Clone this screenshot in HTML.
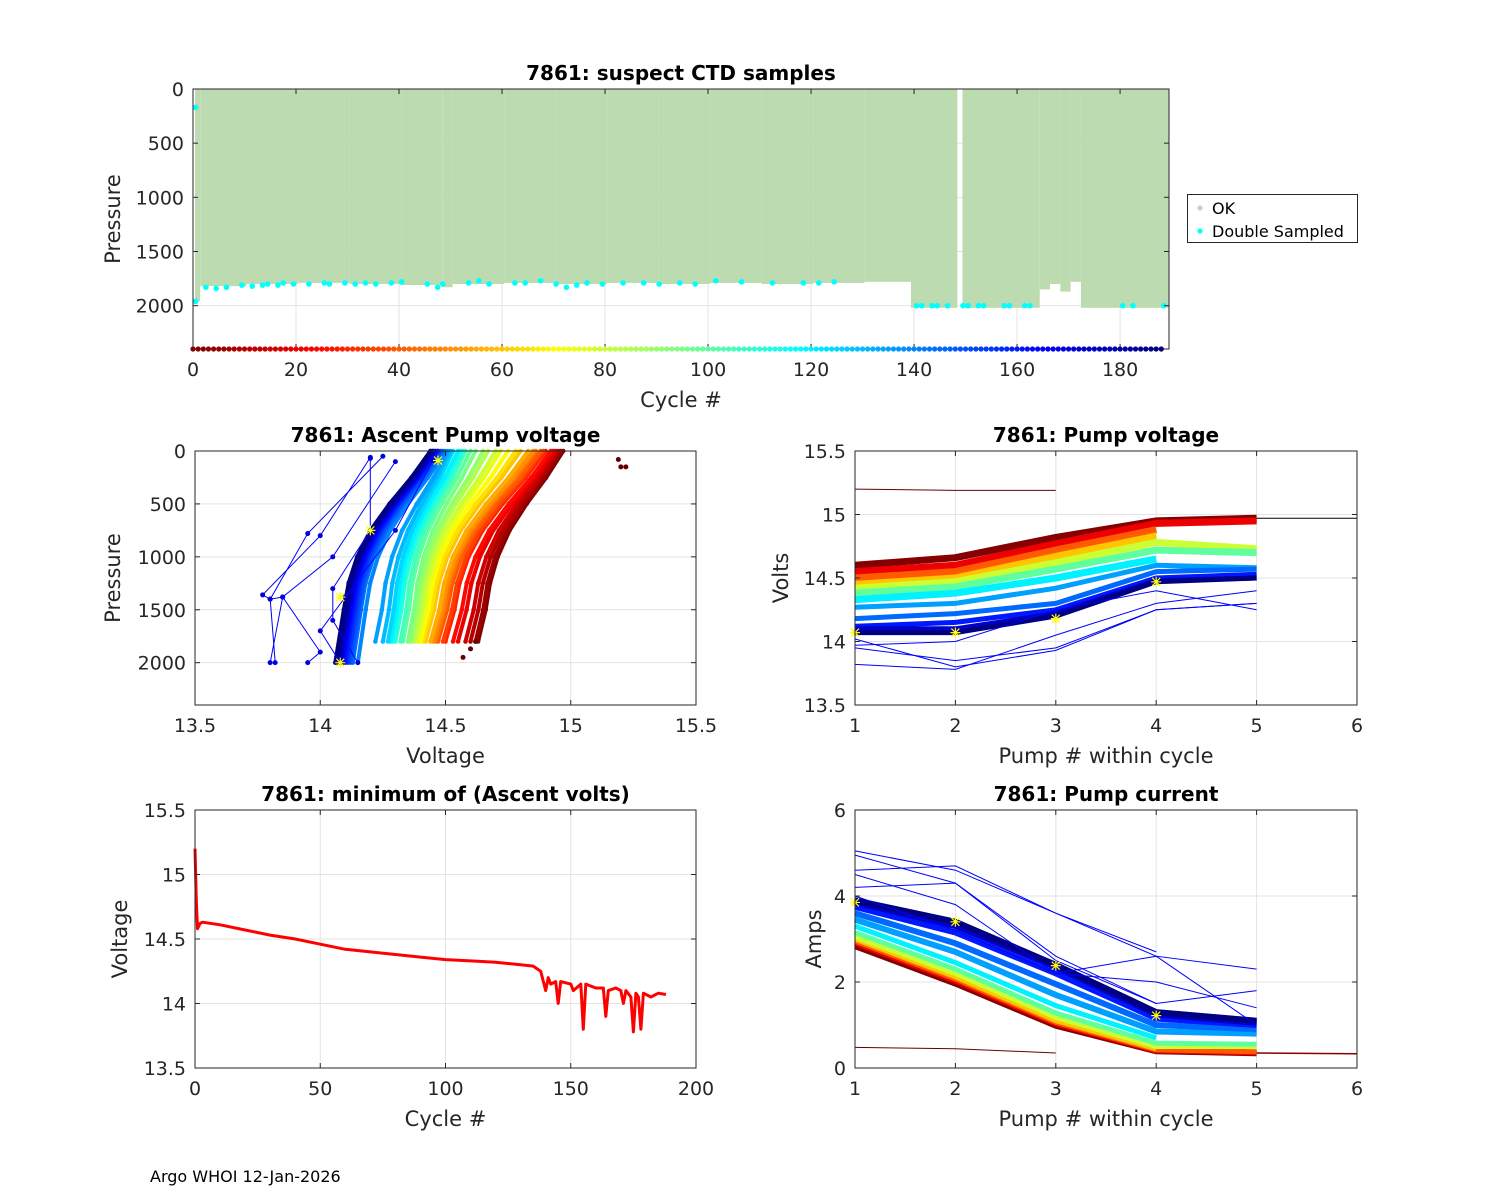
<!DOCTYPE html>
<html><head><meta charset="utf-8"><style>
body{margin:0;background:#fff;}
svg{display:block;font-family:"DejaVu Sans","Liberation Sans",sans-serif;}
</style></head><body>
<svg id="fig" width="1500" height="1200" viewBox="0 0 1500 1200"></svg>
<script>
// ===== DATA =====
const depthSegStart=[0,1,10,20,30,40,48,50,60,70,80,90,100,110,120,130,139,149,164,166,168,170,172];
const depthSegEnd  =[1,10,20,30,40,48,50,60,70,80,90,100,110,120,130,139,148,164,166,168,170,172,189];
const depthSegVal  =[1960,1820,1800,1790,1800,1810,1830,1800,1790,1800,1790,1800,1790,1800,1790,1780,2020,2020,1850,1800,1870,1780,2020];
const dsCycles=[0,0,2,4,6,9,11,13,14,16,17,19,22,25,26,29,31,33,35,38,40,45,47,48,53,55,57,62,64,67,70,72,74,76,79,83,87,90,94,97,101,106,112,118,121,124,140,141,143,144,146,149,150,152,153,157,158,161,162,180,182,188];
const dsPress =[170,1960,1830,1840,1830,1810,1820,1810,1800,1810,1790,1800,1800,1790,1800,1790,1800,1790,1800,1790,1780,1800,1830,1800,1790,1770,1800,1790,1790,1770,1800,1830,1810,1790,1800,1790,1790,1800,1790,1800,1770,1780,1790,1790,1790,1780,2000,2000,2000,2000,2000,2000,2000,2000,2000,2000,2000,2000,2000,2000,2000,2000];
const ascPress=[0,250,500,750,1000,1250,1500,1800];
const ascShape=[0,0.2,0.43,0.63,0.77,0.86,0.91,1];
const ascCycle=[1,5,10,15,20,25,30,35,40,45,50,55,60,65,70,75,80,85,90,95,100,105,110,115,120,125,130,135,140,145,150,155,160,165,170,175,180,184,188];
const ascTop  =[14.97,14.96,14.95,14.94,14.93,14.92,14.9,14.89,14.88,14.86,14.85,14.83,14.8,14.78,14.75,14.72,14.7,14.67,14.65,14.62,14.6,14.58,14.57,14.56,14.55,14.53,14.52,14.51,14.5,14.49,14.48,14.47,14.47,14.46,14.46,14.45,14.45,14.44,14.44];
const ascBot  =[14.63,14.62,14.6,14.58,14.55,14.53,14.5,14.49,14.47,14.46,14.45,14.44,14.42,14.41,14.4,14.39,14.38,14.37,14.36,14.35,14.33,14.32,14.3,14.29,14.28,14.27,14.25,14.22,14.15,14.13,14.12,14.11,14.1,14.09,14.08,14.08,14.07,14.07,14.06];
const ascOutV=[[14.2,14.0,13.77,13.8,13.82],[14.25,13.95,13.8,13.85,13.8],[14.3,14.05,13.85,14.0,13.95],[14.2,14.2,14.05,14.05,14.15],[14.45,14.3,14.1,14.0,14.08]];
const ascOutP=[[60,800,1360,1400,2000],[50,780,1400,1380,2000],[100,1000,1380,1900,2000],[70,750,1300,1600,2000],[90,750,1380,1700,2000]];
const ascStarV=[14.47,14.2,14.08,14.08];
const ascStarP=[90,750,1380,2000];
const pvCycle=[1,20,40,60,80,100,120,135,145,160,175,188];
const pv1=[14.6,14.55,14.5,14.45,14.42,14.38,14.33,14.27,14.18,14.12,14.1,14.07];
const pv2=[14.66,14.6,14.55,14.5,14.47,14.43,14.38,14.3,14.22,14.15,14.1,14.07];
const pv3=[14.82,14.77,14.72,14.67,14.62,14.57,14.5,14.42,14.3,14.25,14.22,14.2];
const pv4=[14.95,14.93,14.88,14.83,14.78,14.72,14.65,14.6,14.55,14.5,14.48,14.47];
const pv5=[14.97,14.95,null,null,14.73,14.7,null,14.58,14.57,14.53,14.5,14.5];
const pvOut=[[13.95,13.85,13.95,14.25,14.3],[13.82,13.78,14.05,14.3,14.4],[13.97,14.0,14.25,14.4,14.25],[14.02,13.8,13.93,14.25,14.3]];
const pvStar=[14.07,14.07,14.18,14.47];
const pc1=[2.82,2.9,2.95,3.0,3.05,3.15,3.3,3.45,3.6,3.75,3.85,3.9];
const pc2=[1.95,2.02,2.07,2.12,2.2,2.3,2.45,2.7,2.9,3.15,3.3,3.4];
const pc3=[0.97,1.02,1.06,1.1,1.18,1.28,1.45,1.7,1.95,2.2,2.35,2.4];
const pc4=[0.38,0.4,0.42,0.45,0.5,0.58,0.7,0.85,1.0,1.15,1.25,1.3];
const pc5=[0.33,0.35,0.38,null,0.5,0.55,null,0.8,0.9,1.0,1.05,1.1];
const pcOut=[[5.05,4.6,3.6,2.7,null],[4.95,4.3,2.6,1.5,null],[4.6,4.7,3.6,2.6,2.3],[4.2,4.3,2.5,1.5,1.8],[4.0,3.2,2.2,2.6,1.0],[4.5,3.8,2.2,2.0,1.4]];
const pcStar=[3.85,3.4,2.38,1.22];
const mvCycle=[0,0.5,1,2,3,10,20,30,40,50,60,70,80,90,100,110,120,130,135,138,140,141,142,144,145,146,150,151,154,155,156,160,163,164,165,168,170,171,172,174,175,176,177,178,179,182,185,188];
const mvVolt =[15.2,14.8,14.58,14.62,14.63,14.61,14.57,14.53,14.5,14.46,14.42,14.4,14.38,14.36,14.34,14.33,14.32,14.3,14.29,14.25,14.1,14.2,14.15,14.17,14.0,14.17,14.15,14.1,14.15,13.8,14.15,14.12,14.12,13.9,14.1,14.12,14.1,14.0,14.1,14.05,13.78,14.08,14.05,13.8,14.08,14.05,14.08,14.07];

// ===== HELPERS =====
const NS="http://www.w3.org/2000/svg";
const svg=document.getElementById('fig');
function mk(tag,attrs,parent){const e=document.createElementNS(NS,tag);for(const k in attrs)e.setAttribute(k,attrs[k]);(parent||svg).appendChild(e);return e;}
function jet(c){const t=1-c/188;const cl=v=>Math.max(0,Math.min(1,v));
 const r=cl(1.5-Math.abs(4*t-3)),g=cl(1.5-Math.abs(4*t-2)),b=cl(1.5-Math.abs(4*t-1));
 return `rgb(${Math.round(r*255)},${Math.round(g*255)},${Math.round(b*255)})`;}
const TXT='#262626';
function axes(o){
 const sx=v=>o.l+(v-o.xmin)/(o.xmax-o.xmin)*(o.r-o.l);
 const sy=o.rev?(v=>o.t+(v-o.ymin)/(o.ymax-o.ymin)*(o.b-o.t)):(v=>o.b-(v-o.ymin)/(o.ymax-o.ymin)*(o.b-o.t));
 const g=mk('g',{});
 
 
 mk('rect',{x:o.l,y:o.t,width:o.r-o.l,height:o.b-o.t,fill:'#fff'},g);
 const grid=mk('g',{stroke:'#e3e3e3','stroke-width':1},g);
 
 
 o.xt.forEach((v,i)=>{const x=sx(v);
  mk('line',{x1:x,x2:x,y1:o.t,y2:o.b},grid);
  const t=mk('text',{x:x,y:o.b+27,'text-anchor':'middle','font-size':19,fill:TXT},g);t.textContent=o.xl[i];
  
  });
 o.yt.forEach((v,i)=>{const y=sy(v);
  mk('line',{x1:o.l,x2:o.r,y1:y,y2:y},grid);
  const t=mk('text',{x:o.l-9,y:y+7,'text-anchor':'end','font-size':19,fill:TXT},g);t.textContent=o.yl[i];
  
  });
 const plot=mk('g',{},g);
 
 
 const ttl=mk('text',{x:(o.l+o.r)/2,y:o.t-9,'text-anchor':'middle','font-size':20,'font-weight':'bold',fill:'#000'},g);ttl.textContent=o.title;
 
 
 const xl=mk('text',{x:(o.l+o.r)/2,y:o.b+58,'text-anchor':'middle','font-size':21,fill:TXT},g);xl.textContent=o.xlab;
 
 
 const yx=o.ylx,yy=(o.t+o.b)/2;
 const yl=mk('text',{x:yx,y:yy,'text-anchor':'middle','font-size':21,fill:TXT,transform:`rotate(-90 ${yx} ${yy})`},g);yl.textContent=o.ylab;
 
 
 return {sx,sy,plot,g,finish(){
  const f=mk('g',{stroke:TXT,'stroke-width':1,fill:'none'},g);
  mk('rect',{x:o.l,y:o.t,width:o.r-o.l,height:o.b-o.t},f);
  o.xt.forEach(v=>{const x=sx(v);mk('line',{x1:x,x2:x,y1:o.b,y2:o.b-5},f);mk('line',{x1:x,x2:x,y1:o.t,y2:o.t+5},f);});
  o.yt.forEach(v=>{const y=sy(v);mk('line',{x1:o.l,x2:o.l+5,y1:y,y2:y},f);mk('line',{x1:o.r,x2:o.r-5,y1:y,y2:y},f);});
 }};
}
function poly(parent,xs,ys,sx,sy,attrs,name){
 let d='',pen=false;
 xs.forEach((x,i)=>{const y=ys[i];if(y===null||y===undefined){pen=false;return;}
  d+=(pen?'L':'M')+sx(x).toFixed(1)+' '+sy(y).toFixed(1);pen=true;});
 const p=mk('path',Object.assign({d,fill:'none'},attrs),parent);
 
 
 return p;}
function star(parent,x,y){
 const p=mk('path',{d:`M${x-5} ${y}H${x+5}M${x} ${y-5}V${y+5}M${x-4} ${y-4}L${x+4} ${y+4}M${x-4} ${y+4}L${x+4} ${y-4}`,stroke:'#ffff00','stroke-width':1.2},parent);
 
 }

// ===== TOP =====
{
 const A=axes({name:'suspect-ctd-chart',l:193,r:1169,t:89,b:349,xmin:0,xmax:189.5,ymin:0,ymax:2400,rev:true,
  xt:[0,20,40,60,80,100,120,140,160,180],xl:['0','20','40','60','80','100','120','140','160','180'],
  yt:[0,500,1000,1500,2000],yl:['0','500','1000','1500','2000'],title:'7861: suspect CTD samples',xlab:'Cycle #',ylab:'Pressure',ylx:120});
 const {sx,sy,plot}=A;
 depthSegStart.forEach((s,i)=>{
  const r=mk('rect',{x:sx(s+0.4),y:sy(0),width:sx(depthSegEnd[i]+0.4)-sx(s+0.4),height:sy(depthSegVal[i])-sy(0),fill:'#bddbb0'},plot);
  
  
 });
 dsCycles.forEach((c,i)=>{
  const d=mk('circle',{cx:sx(c+0.5),cy:sy(dsPress[i]),r:2.8,fill:'#00ffff'},plot);
  
  
 });
 A.finish();
 for(let c=0;c<=188;c++){
  const d=mk('circle',{cx:sx(c),cy:sy(2400),r:2.6,fill:jet(c)},A.g);
  
  
 }
 const lg=mk('g',{});
 
 
 mk('rect',{x:1187.5,y:194.5,width:170,height:48,fill:'#fff',stroke:TXT},lg);
 const e1=mk('circle',{cx:1200,cy:208,r:2.6,fill:'#bddbb0'},lg);
 
 
 const t1=mk('text',{x:1212,y:214,'font-size':16,fill:'#000'},lg);t1.textContent='OK';
 
 
 const e2=mk('circle',{cx:1200,cy:231,r:2.6,fill:'#00ffff'},lg);
 
 
 const t2=mk('text',{x:1212,y:237,'font-size':16,fill:'#000'},lg);t2.textContent='Double Sampled';
 
 
}

// ===== MIDDLE LEFT =====
{
 const A=axes({name:'ascent-pump-voltage-chart',l:195,r:696,t:451,b:705,xmin:13.5,xmax:15.5,ymin:0,ymax:2400,rev:true,
  xt:[13.5,14,14.5,15,15.5],xl:['13.5','14','14.5','15','15.5'],yt:[0,500,1000,1500,2000],yl:['0','500','1000','1500','2000'],
  title:'7861: Ascent Pump voltage',xlab:'Voltage',ylab:'Pressure',ylx:120});
 const {sx,sy,plot}=A;
 ascCycle.forEach((c,i)=>{
  const vs=ascShape.map(f=>ascTop[i]-(ascTop[i]-ascBot[i])*f);
  const ps=ascPress.map((p,j)=>(j===ascPress.length-1&&c>=140)?2000:p);
  poly(plot,vs,ps,sx,sy,{stroke:jet(c),'stroke-width':4,'stroke-linejoin':'round'},'ascent-profile-line');
  vs.forEach((v,j)=>{const d=mk('circle',{cx:sx(v),cy:sy(ps[j]),r:2.3,fill:jet(c)},plot);
   
   });
 });
 ascOutV.forEach((vs,i)=>{
  poly(plot,vs,ascOutP[i],sx,sy,{stroke:'#0000ff','stroke-width':1},'ascent-outlier-line');
  vs.forEach((v,j)=>{const d=mk('circle',{cx:sx(v),cy:sy(ascOutP[i][j]),r:2.5,fill:'#0000dd'},plot);
   
   });
 });
 [[15.19,80],[15.2,150],[15.22,150],[14.57,1950],[14.6,1870],[14.62,1800]].forEach(p=>{
  const d=mk('circle',{cx:sx(p[0]),cy:sy(p[1]),r:2.5,fill:'#660000'},plot);
  
  });
 ascStarV.forEach((v,i)=>star(plot,sx(v),sy(ascStarP[i])));
 A.finish();
}

// ===== MIDDLE RIGHT =====
{
 const A=axes({name:'pump-voltage-chart',l:855,r:1357,t:451,b:705,xmin:1,xmax:6,ymin:13.5,ymax:15.5,rev:false,
  xt:[1,2,3,4,5,6],xl:['1','2','3','4','5','6'],yt:[13.5,14,14.5,15,15.5],yl:['13.5','14','14.5','15','15.5'],
  title:'7861: Pump voltage',xlab:'Pump # within cycle',ylab:'Volts',ylx:788});
 const {sx,sy,plot}=A;
 const P=[1,2,3,4,5];
 pvCycle.forEach((c,i)=>{
  poly(plot,P,[pv1[i],pv2[i],pv3[i],pv4[i],pv5[i]],sx,sy,{stroke:jet(c),'stroke-width':c<130?7:5},'pump-voltage-line');
 });
 pvOut.forEach(r=>poly(plot,P,r,sx,sy,{stroke:'#0000ff','stroke-width':1},'pump-voltage-outlier'));
 poly(plot,[1,2,3],[15.2,15.19,15.19],sx,sy,{stroke:'#660000','stroke-width':1},'pump-voltage-early-line');
 poly(plot,[5,6],[14.97,14.97],sx,sy,{stroke:'#000','stroke-width':1},'pump-voltage-sixth-line');
 pvStar.forEach((v,i)=>star(plot,sx(i+1),sy(v)));
 A.finish();
}

// ===== BOTTOM LEFT =====
{
 const A=axes({name:'min-ascent-volts-chart',l:195,r:696,t:810,b:1068,xmin:0,xmax:200,ymin:13.5,ymax:15.5,rev:false,
  xt:[0,50,100,150,200],xl:['0','50','100','150','200'],yt:[13.5,14,14.5,15,15.5],yl:['13.5','14','14.5','15','15.5'],
  title:'7861: minimum of (Ascent volts)',xlab:'Cycle #',ylab:'Voltage',ylx:127});
 const {sx,sy,plot}=A;
 poly(plot,mvCycle,mvVolt,sx,sy,{stroke:'#ff0000','stroke-width':3,'stroke-linejoin':'round'},'min-volts-line');
 A.finish();
}

// ===== BOTTOM RIGHT =====
{
 const A=axes({name:'pump-current-chart',l:855,r:1357,t:810,b:1068,xmin:1,xmax:6,ymin:0,ymax:6,rev:false,
  xt:[1,2,3,4,5,6],xl:['1','2','3','4','5','6'],yt:[0,2,4,6],yl:['0','2','4','6'],
  title:'7861: Pump current',xlab:'Pump # within cycle',ylab:'Amps',ylx:821});
 const {sx,sy,plot}=A;
 const P=[1,2,3,4,5];
 pvCycle.forEach((c,i)=>{
  poly(plot,P,[pc1[i],pc2[i],pc3[i],pc4[i],pc5[i]],sx,sy,{stroke:jet(c),'stroke-width':c<130?5:6},'pump-current-line');
 });
 pcOut.forEach(r=>poly(plot,P,r,sx,sy,{stroke:'#0000ff','stroke-width':1},'pump-current-outlier'));
 poly(plot,[1,2,3],[0.48,0.45,0.35],sx,sy,{stroke:'#660000','stroke-width':1},'pump-current-early-line');
 poly(plot,[5,6],[0.35,0.33],sx,sy,{stroke:'#880000','stroke-width':1.5},'pump-current-sixth-line');
 pcStar.forEach((v,i)=>star(plot,sx(i+1),sy(v)));
 A.finish();
}

const ft=mk('text',{x:150,y:1182,'font-size':16,fill:'#000'});
ft.textContent='Argo WHOI 12-Jan-2026';


</script>
</body></html>
